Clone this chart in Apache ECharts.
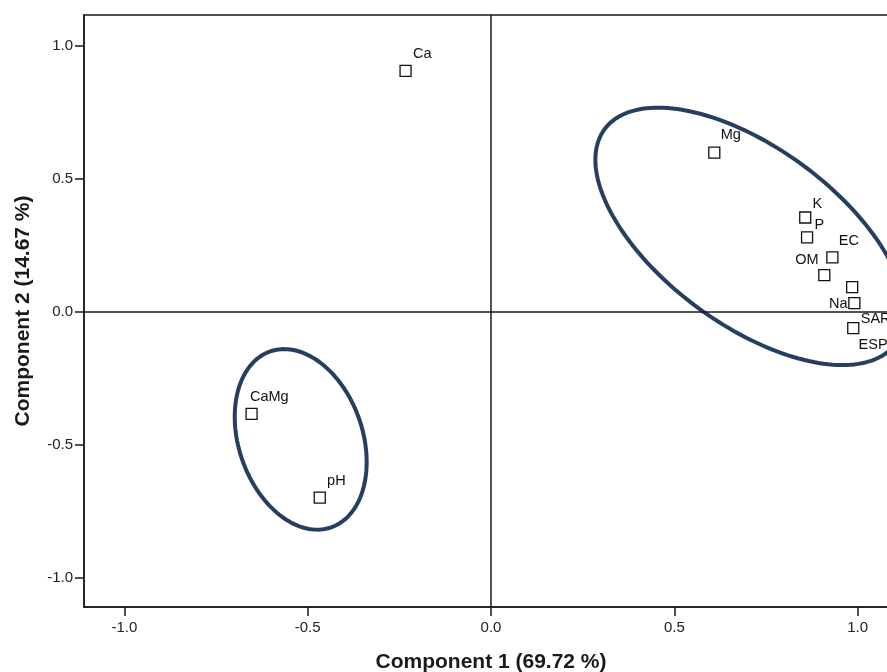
<!DOCTYPE html>
<html>
<head>
<meta charset="utf-8">
<script src="https://cdn.jsdelivr.net/npm/echarts@6/dist/echarts.min.js"></script>
<style>
html,body{margin:0;padding:0;background:#fff;}
#chart{width:887px;height:672px;}
</style>
</head>
<body>
<div id="chart"></div>
<script>
// ---- data ----
var variableNames = ['Ca', 'Mg', 'K', 'P', 'EC', 'OM', 'Na', 'SAR', 'ESP', 'CaMg', 'pH'];
var component1 = [-0.233, 0.609, 0.857, 0.862, 0.931, 0.909, 0.985, 0.991, 0.988, -0.653, -0.467];
var component2 = [0.905, 0.598, 0.354, 0.279, 0.204, 0.137, 0.092, 0.032, -0.062, -0.384, -0.699];
var tickValues = [-1.0, -0.5, 0.0, 0.5, 1.0];
var xTitle = 'Component 1 (69.72 %)';
var yTitle = 'Component 2 (14.67 %)';
// ellipse groupings: centre and two conjugate semi-axis vectors, in component units
var ellipseCenters = [[-0.519, -0.480], [0.707, 0.283]];
var ellipseAxisA = [[0.0828, -0.3307], [0.3973, -0.4027]];
var ellipseAxisB = [[-0.1597, -0.0757], [-0.1433, -0.2677]];

// ---- label placement (style) ----
var labelPlacement = {
  'Ca':   [8, -16, 'left'],
  'Mg':   [7, -17, 'left'],
  'K':    [8, -13, 'left'],
  'P':    [8, -12, 'left'],
  'EC':   [7, -16, 'left'],
  'OM':   [-5, -15, 'right'],
  'Na':   [-4, 17, 'right'],
  'SAR':  [7, 16, 'left'],
  'ESP':  [6, 17, 'left'],
  'CaMg': [-1, -16, 'left'],
  'pH':   [8, -16, 'left']
};
var SYM = 11;

var points = variableNames.map(function (n, i) {
  var p = labelPlacement[n];
  return {
    name: n,
    value: [component1[i], component2[i]],
    label: {
      show: true,
      formatter: n,
      position: [SYM / 2 + p[0], SYM / 2 + p[1]],
      align: p[2],
      verticalAlign: 'middle'
    }
  };
});

var chart = echarts.init(document.getElementById('chart'), null, {renderer: 'canvas'});
var FONT = '"Liberation Sans", Arial, sans-serif';

var axisCommon = {
  type: 'value',
  splitLine: {show: false},
  axisLine: {show: true, onZero: false, lineStyle: {color: '#1a1a1a', width: 1.5}},
  axisTick: {show: true, inside: false, length: 9, customValues: tickValues, lineStyle: {color: '#1a1a1a', width: 1.5}},
  axisLabel: {
    customValues: tickValues,
    color: '#222',
    fontSize: 15,
    fontFamily: FONT,
    formatter: function (v) { return v.toFixed(1); }
  },
  nameLocation: 'middle',
  nameTextStyle: {color: '#1a1a1a', fontSize: 21, fontWeight: 'bold', fontFamily: FONT}
};

var option = {
  animation: false,
  backgroundColor: '#ffffff',
  grid: {
    left: 84, top: 15, bottom: 65, right: -11,
    outerBoundsMode: 'none',
    show: true, borderColor: '#1a1a1a', borderWidth: 1.5, backgroundColor: 'transparent',
    containLabel: false
  },
  xAxis: Object.assign({}, axisCommon, {
    min: -1.11,
    max: 1.11,
    name: xTitle,
    nameGap: 45,
    axisLabel: Object.assign({}, axisCommon.axisLabel, {margin: 13})
  }),
  yAxis: Object.assign({}, axisCommon, {
    min: -1.11,
    max: 1.115,
    name: yTitle,
    nameGap: 50,
    axisLabel: Object.assign({}, axisCommon.axisLabel, {margin: 11})
  }),
  series: [
    {
      type: 'custom',
      silent: true,
      clip: false,
      z: 1,
      data: ellipseCenters.map(function (c, i) { return [c[0], c[1], i]; }),
      encode: {x: 0, y: 1},
      renderItem: function (params, api) {
        var i = api.value(2);
        var c = ellipseCenters[i], a = ellipseAxisA[i], b = ellipseAxisB[i];
        var pts = [];
        var N = 180;
        for (var k = 0; k < N; k++) {
          var t = 2 * Math.PI * k / N;
          var ct = Math.cos(t), st = Math.sin(t);
          pts.push(api.coord([c[0] + a[0] * ct + b[0] * st, c[1] + a[1] * ct + b[1] * st]));
        }
        return {
          type: 'polygon',
          shape: {points: pts, smooth: 0},
          style: {fill: 'none', stroke: '#263f61', lineWidth: 4}
        };
      }
    },
    {
      type: 'scatter',
      z: 3,
      symbol: 'rect',
      symbolSize: SYM,
      itemStyle: {color: '#ffffff', borderColor: '#111', borderWidth: 1.3, opacity: 1},
      label: {color: '#111', fontSize: 14.5, fontFamily: FONT},
      emphasis: {disabled: true},
      data: points,
      markLine: {
        silent: true,
        symbol: 'none',
        label: {show: false},
        lineStyle: {color: '#1a1a1a', width: 1.5, type: 'solid'},
        data: [{xAxis: 0}, {yAxis: 0}]
      }
    }
  ]
};
chart.setOption(option);
</script>
</body>
</html>
